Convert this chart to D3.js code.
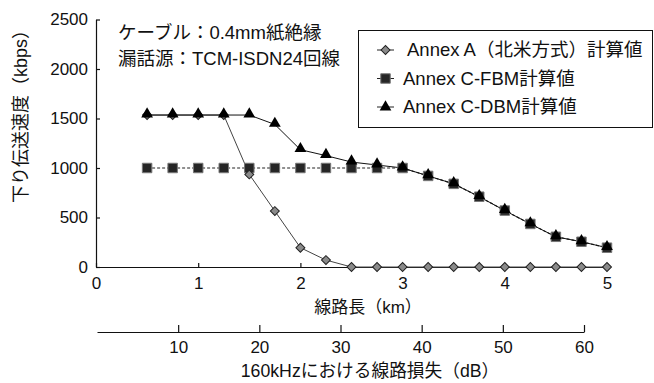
<!DOCTYPE html>
<html>
<head>
<meta charset="utf-8">
<script src="https://cdn.jsdelivr.net/npm/d3@7"></script>
<style>
  body { margin: 0; background: #fff; }
  text { font-family: "Liberation Sans", "Noto Sans CJK JP", sans-serif; fill: #111; }
</style>
</head>
<body>
<div id="chart"></div>
<script>
// 線路長 (km)
let distKm = [0.5, 0.75, 1.0, 1.25, 1.5, 1.75, 2.0, 2.25, 2.5, 2.75, 3.0, 3.25, 3.5, 3.75, 4.0, 4.25, 4.5, 4.75, 5.0];
// 下り伝送速度 (kbps)
let annexA = [1535, 1535, 1535, 1535, 935, 565, 195, 70, 0, 0, 0, 0, 0, 0, 0, 0, 0, 0, 0];
let annexCfbm = [1000, 1000, 1000, 1000, 1000, 1000, 1000, 1000, 1000, 1000, 1000, 920, 840, 710, 570, 435, 305, 255, 195];
let annexCdbm = [1535, 1535, 1535, 1535, 1535, 1440, 1185, 1125, 1060, 1030, 1000, 920, 840, 710, 570, 435, 305, 255, 195];

let yTicks = [0, 500, 1000, 1500, 2000, 2500];
let xTicks = [0, 1, 2, 3, 4, 5];
let dbTicks = [10, 20, 30, 40, 50, 60];
let seriesNames = ["Annex A（北米方式）計算値", "Annex C-FBM計算値", "Annex C-DBM計算値"];
let notes = ["ケーブル：0.4mm紙絶縁", "漏話源：TCM-ISDN24回線"];

let width = 654, height = 383;

let svg = d3.select("#chart")
            .append("svg")
            .attr("width", width)
            .attr("height", height)

let xscale = d3.scaleLinear()
               .domain([0, 5])
               .range([96, 607])

let yscale = d3.scaleLinear()
               .domain([0, 2500])
               .range([267, 19.5])

let dbscale = d3.scaleLinear()
                .domain([0, 60])
                .range([97, 584])

let fmt = d3.format("d");

// axes
let yaxis = svg.append("g")
               .attr("transform", "translate(96,0)")
               .call(d3.axisLeft(yscale).tickValues(yTicks).tickFormat(fmt).tickSizeInner(-4).tickSizeOuter(0).tickPadding(8))

let xaxis = svg.append("g")
               .attr("transform", "translate(0,267)")
               .call(d3.axisBottom(xscale).tickValues(xTicks).tickFormat(fmt).tickSizeInner(-4).tickSizeOuter(0).tickPadding(10))

let dbaxis = svg.append("g")
                .attr("transform", "translate(0,332)")
                .call(d3.axisBottom(dbscale).tickValues(dbTicks).tickFormat(fmt).tickSizeInner(-7).tickSizeOuter(0).tickPadding(9))

svg.selectAll(".tick text").attr("font-size", 17).attr("font-family", null)
svg.selectAll(".domain, .tick line").attr("stroke", "#111").attr("stroke-width", 1.2)

// axis titles
svg.append("text")
   .text("線路長（km）")
   .attr("x", 368)
   .attr("y", 313)
   .attr("text-anchor", "middle")
   .attr("font-size", 17)

svg.append("text")
   .text("160kHzにおける線路損失（dB）")
   .attr("x", 370)
   .attr("y", 377)
   .attr("text-anchor", "middle")
   .attr("font-size", 17.7)

svg.append("text")
   .text("下り伝送速度（kbps）")
   .attr("transform", "translate(27,112) rotate(-90)")
   .attr("text-anchor", "middle")
   .attr("font-size", 18)

// notes
notes.forEach((t, i) => {
  svg.append("text")
     .text(t)
     .attr("x", 118)
     .attr("y", 39 + i * 26)
     .attr("font-size", 18.5)
});

// lines
let pts = vals => vals.map((v, i) => [xscale(distKm[i]), yscale(v)]);
let line = d3.line();

svg.append("path")
   .attr("d", line(pts(annexA)))
   .attr("stroke", "#444")
   .attr("stroke-width", 1)
   .attr("fill", "none")

svg.append("path")
   .attr("d", line(pts(annexCfbm)))
   .attr("stroke", "#222")
   .attr("stroke-width", 1.2)
   .attr("stroke-dasharray", "3,2")
   .attr("fill", "none")

svg.append("path")
   .attr("d", line(pts(annexCdbm)))
   .attr("stroke", "#111")
   .attr("stroke-width", 1)
   .attr("fill", "none")

// markers
let sq = d3.symbol().type(d3.symbolSquare).size(90);
let dia = d3.symbol().type(d3.symbolSquare).size(40);
let tri = d3.symbol().type(d3.symbolTriangle).size(60);

svg.selectAll(".sq")
   .data(annexCfbm)
   .enter()
   .append("path")
   .attr("d", sq)
   .attr("transform", (d, i) => `translate(${xscale(distKm[i])},${yscale(d)})`)
   .attr("fill", "#262626")
   .attr("stroke", "#777")
   .attr("stroke-width", 1)

svg.selectAll(".dia")
   .data(annexA)
   .enter()
   .append("path")
   .attr("d", dia)
   .attr("transform", (d, i) => `translate(${xscale(distKm[i])},${yscale(d)}) rotate(45)`)
   .attr("fill", "#8a8a8a")
   .attr("stroke", "#222")
   .attr("stroke-width", 1)

svg.selectAll(".tri")
   .data(annexCdbm)
   .enter()
   .append("path")
   .attr("d", tri)
   .attr("transform", (d, i) => `translate(${xscale(distKm[i])},${yscale(d) - 1})`)
   .attr("fill", "#000")

// legend
let legend = svg.append("g")

legend.append("rect")
      .attr("x", 358.5)
      .attr("y", 30.5)
      .attr("width", 294)
      .attr("height", 97)
      .attr("fill", "#fff")
      .attr("stroke", "#111")
      .attr("stroke-width", 1)

let legendSyms = [dia, sq, tri];
let legendFill = ["#8a8a8a", "#262626", "#000"];
seriesNames.forEach((name, i) => {
  let y = 50 + i * 28.5;
  legend.append("line")
        .attr("x1", 377).attr("x2", 394)
        .attr("y1", y).attr("y2", y)
        .attr("stroke", "#222")
        .attr("stroke-width", 1)
  legend.append("path")
        .attr("d", legendSyms[i])
        .attr("transform", `translate(385.5,${y})` + (i == 0 ? " rotate(45)" : ""))
        .attr("fill", legendFill[i])
        .attr("stroke", i == 2 ? "none" : (i == 0 ? "#222" : "#777"))
  legend.append("text")
        .text(name)
        .attr("x", i == 0 ? 407 : 403)
        .attr("y", y + 6)
        .attr("font-size", 18.5)
});
</script>
</body>
</html>
